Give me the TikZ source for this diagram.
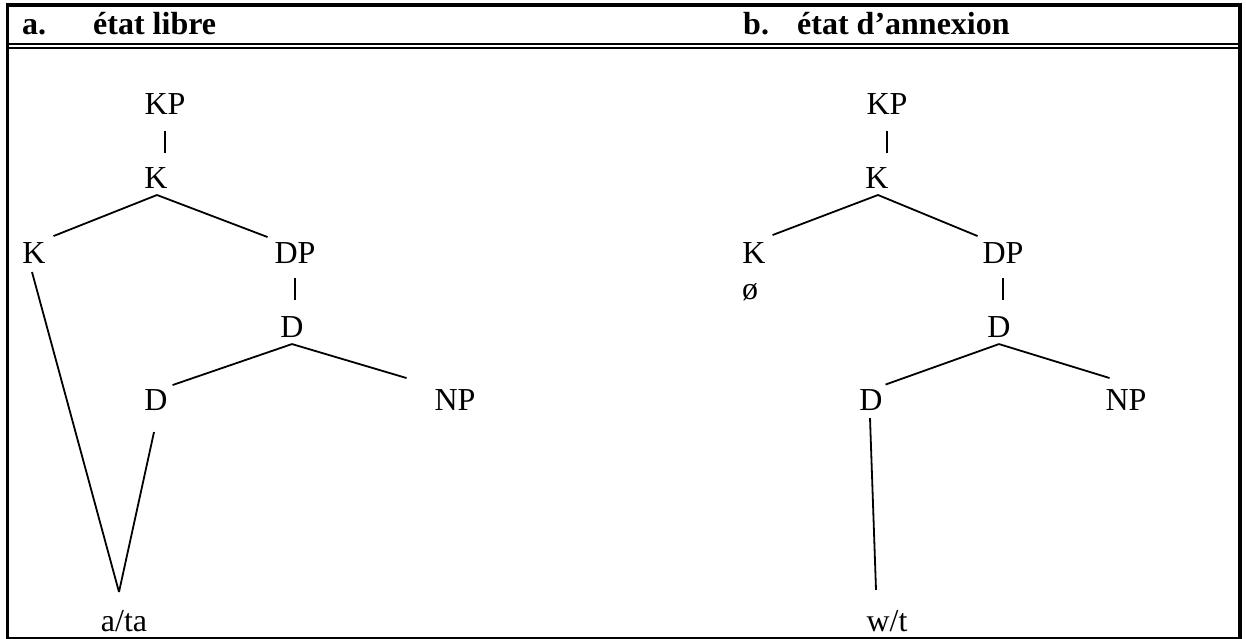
\documentclass[tikz,border=0pt]{standalone}
\usepackage{fontspec}
\setmainfont{Liberation Serif}
\usetikzlibrary{calc}
\begin{document}
\begin{tikzpicture}[x=1pt,y=-1pt,
  lab/.style={font=\fontsize{32}{38}\selectfont, inner sep=0pt, outer sep=0pt, anchor=base},
  head/.style={font=\fontsize{32}{38}\selectfont\bfseries, inner sep=0pt, anchor=base west},
  edge/.style={line width=1.8pt},
  frame/.style={line width=3.4pt}]
\useasboundingbox (0,0) rectangle (1246,639);
% table frame
\draw[frame] (6,5) -- (1242,5);
\draw[frame] (7.6,3.3) -- (7.6,639);
\draw[frame] (1240,3.3) -- (1240,639);
\draw[line width=1.7pt] (6,637.7) -- (1242,637.7);
\draw[line width=2pt] (9,43.7) -- (1238,43.7);
\draw[line width=2pt] (9,47.7) -- (1238,47.7);
% headers
\node[head] (ha) at (22,35) {a.};
\node[head] (hat) at (93,35) {état libre};
\node[head] (hb) at (743,35) {b.};
\node[head] (hbt) at (797,35) {état d’annexion};
% tree a
\node[lab] (KPa) at (165,115) {KP};
\node[lab] (Ka) at (156,189) {K};
\node[lab] (Kla) at (34,263) {K};
\node[lab] (DPa) at (295,263) {DP};
\node[lab] (Da) at (292,337) {D};
\node[lab] (Dla) at (156,410) {D};
\node[lab] (NPa) at (455,410) {NP};
\node[lab] (ata) at (124,631) {a/ta};
\coordinate (vA) at (119,592);
\draw[edge] ($(KPa.south)+(0,16)$) -- ($(KPa.south |- Ka.north)+(0,-15)$);
\draw[edge] ($(Ka.south)+(1,6)$) -- ($(Kla.north east)+(8,-6)$);
\draw[edge] ($(Ka.south)+(1,6)$) -- ($(DPa.north west)+(-7,-5)$);
\draw[edge] ($(DPa.south)+(0,15)$) -- ($(DPa.south |- Da.north)+(0,-16)$);
\draw[edge] ($(Da.south)+(0,7)$) -- ($(Dla.north east)+(5,-4)$);
\draw[edge] ($(Da.south)+(0,7)$) -- ($(NPa.north west)+(-28,-11)$);
\draw[edge] ($(Kla.south)+(-2,9)$) -- (vA);
\draw[edge] ($(Dla.south)+(-2,22)$) -- (vA);
% tree b
\node[lab] (KPb) at (887,115) {KP};
\node[lab] (Kb) at (877,189) {K};
\node[lab] (Klb) at (754,263) {K};
\node[lab] (zb) at (750,299) {ø};
\node[lab] (DPb) at (1003,263) {DP};
\node[lab] (Db) at (999,337) {D};
\node[lab] (Dlb) at (871,410) {D};
\node[lab] (NPb) at (1126,410) {NP};
\node[lab] (wt) at (887,631) {w/t};
\draw[edge] ($(KPb.south)+(0,16)$) -- ($(KPb.south |- Kb.north)+(0,-15)$);
\draw[edge] ($(Kb.south)+(1,6)$) -- ($(Klb.north east)+(7,-7)$);
\draw[edge] ($(Kb.south)+(1,6)$) -- ($(DPb.north west)+(-5,-6)$);
\draw[edge] ($(DPb.south)+(0,15)$) -- ($(DPb.south |- Db.north)+(0,-16)$);
\draw[edge] ($(Db.south)+(0,7)$) -- ($(Dlb.north east)+(3,-4.5)$);
\draw[edge] ($(Db.south)+(0,7)$) -- ($(NPb.north west)+(4,-11)$);
\draw[edge] ($(Dlb.south)+(-1,8)$) -- ($(wt.north)+(-11,-20)$);
\end{tikzpicture}
\end{document}
